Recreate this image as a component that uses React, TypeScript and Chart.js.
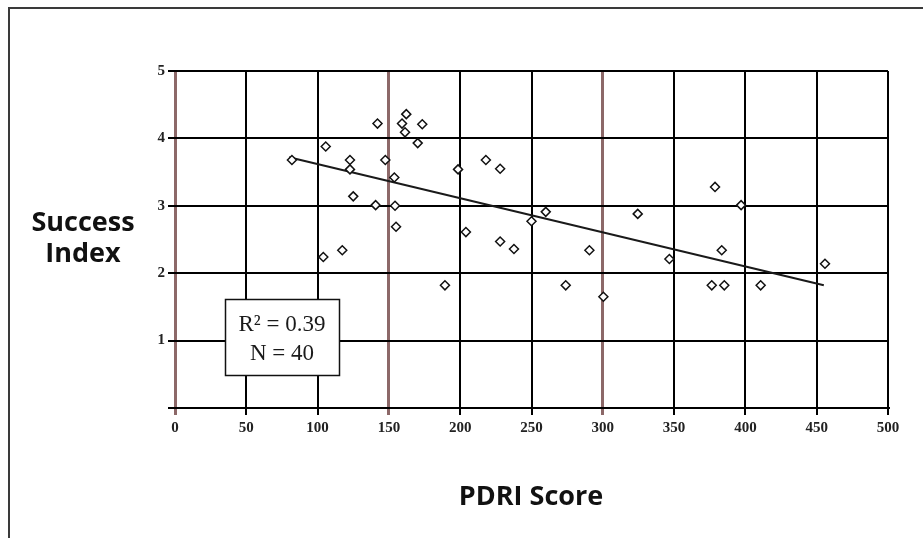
import React, { useEffect, useRef } from "react";
import { Chart, registerables } from "chart.js";

Chart.register(...registerables);

// PDRI score (x) and Success Index (y)
const pdriScores: number[] = [
  82, 105.7, 122.7, 122.7, 125, 117.3, 104, 142, 140.7, 147.5,
  153.8, 154.3, 155, 159.2, 162.2, 161.3, 173.4, 170.2, 198.5, 218,
  228, 204, 228, 237.7, 250, 260, 189.3, 274, 290.6, 300.4,
  324.5, 346.7, 378.7, 397, 383.4, 376.4, 385.2, 410.7, 455.8,
];
const successIndex: number[] = [
  3.68, 3.88, 3.68, 3.54, 3.14, 2.34, 2.24, 4.22, 3.01, 3.68,
  3.42, 3.0, 2.69, 4.22, 4.36, 4.09, 4.21, 3.93, 3.54, 3.68,
  3.55, 2.61, 2.47, 2.36, 2.77, 2.91, 1.82, 1.82, 2.34, 1.65,
  2.88, 2.21, 3.28, 3.01, 2.34, 1.82, 1.82, 1.82, 2.14,
];
// trend line end points
const trendX: number[] = [80, 455];
const trendY: number[] = [3.72, 1.82];

const xTicks: number[] = [0, 50, 100, 150, 200, 250, 300, 350, 400, 450, 500];
const brownGridValues: number[] = [0, 150, 300];
const statLines: string[] = ["R\u00B2 = 0.39", "N = 40"];
const yTitleLines: string[] = ["Success", "Index"];
const xTitle = "PDRI Score";

const W = 923;
const H = 538;

const decorPlugin = {
  id: "decor",
  beforeDraw(chart: any) {
    const ctx = chart.ctx;
    ctx.save();
    ctx.fillStyle = "#ffffff";
    ctx.fillRect(0, 0, W, H);
    ctx.strokeStyle = "#3a3a3a";
    ctx.lineWidth = 2;
    ctx.strokeRect(9, 8, 1000, 1000);
    ctx.restore();
  },
  afterDraw(chart: any) {
    const ctx = chart.ctx;
    ctx.save();
    // stats box
    const bx = 225, by = 299, bw = 114, bh = 76;
    ctx.fillStyle = "#ffffff";
    ctx.fillRect(bx, by, bw, bh);
    ctx.strokeStyle = "#111";
    ctx.lineWidth = 1.5;
    ctx.strokeRect(bx + 0.5, by + 0.5, bw, bh);
    ctx.fillStyle = "#1a1a1a";
    ctx.font = '23px "Liberation Serif", serif';
    ctx.textAlign = "center";
    ctx.textBaseline = "alphabetic";
    ctx.fillText(statLines[0], bx + bw / 2, 331);
    ctx.fillText(statLines[1], bx + bw / 2, 360);

    // axis titles
    ctx.fillStyle = "#111";
    ctx.font = 'bold 27px "Open Sans", sans-serif';
    ctx.fillText(yTitleLines[0], 83, 231);
    ctx.fillText(yTitleLines[1], 83, 262);
    ctx.fillText(xTitle, 531, 505);
    ctx.restore();
  },
};

export default function App() {
  const ref = useRef<HTMLCanvasElement | null>(null);

  useEffect(() => {
    if (!ref.current) return;
    const points = pdriScores.map((x, i) => ({ x, y: successIndex[i] }));
    const trend = trendX.map((x, i) => ({ x, y: trendY[i] }));
    const gridColor = (c: any) =>
      c.tick && brownGridValues.includes(c.tick.value) ? "#8c6868" : "#000000";
    const gridWidth = (c: any) =>
      c.tick && brownGridValues.includes(c.tick.value) ? 3 : 2;

    const chart = new Chart(ref.current, {
      type: "scatter",
      data: {
        datasets: [
          {
            type: "line",
            data: trend,
            borderColor: "#1a1a1a",
            borderWidth: 2,
            pointRadius: 0,
            fill: false,
            order: 2,
          } as any,
          {
            data: points,
            pointStyle: "rectRot",
            pointRadius: 4.5,
            pointBorderWidth: 1.5,
            pointBorderColor: "#111",
            pointBackgroundColor: "#ffffff",
            order: 1,
          } as any,
        ],
      },
      options: {
        responsive: false,
        animation: false,
        devicePixelRatio: 1,
        layout: { padding: { left: 0, top: 71, right: 35, bottom: 0 } },
        plugins: {
          legend: { display: false },
          tooltip: { enabled: false },
        },
        scales: {
          x: {
            type: "linear",
            min: 0,
            max: 500,
            afterBuildTicks: (scale: any) => {
              scale.ticks = xTicks.map((v) => ({ value: v }));
            },
            afterFit: (scale: any) => {
              scale.height = 130;
            },
            grid: {
              color: gridColor,
              lineWidth: gridWidth,
              tickLength: 7,
              drawTicks: true,
            },
            border: { display: true, color: "#000", width: 2 },
            ticks: {
              color: "#222",
              padding: 4,
              maxRotation: 0,
              font: { family: '"Liberation Serif", serif', size: 15, weight: "bold" },
            },
          },
          y: {
            type: "linear",
            min: 0,
            max: 5,
            afterFit: (scale: any) => {
              scale.width = 175;
            },
            grid: {
              color: "#000",
              lineWidth: 2,
              tickLength: 7,
            },
            border: { display: false },
            ticks: {
              stepSize: 1,
              color: "#222",
              padding: 3,
              callback: (v: any) => (v === 0 ? "" : String(v)),
              font: { family: '"Liberation Serif", serif', size: 15, weight: "bold" },
            },
          },
        },
      },
      plugins: [decorPlugin],
    });
    return () => chart.destroy();
  }, []);

  return (
    <div style={{ position: "absolute", left: 0, top: 0, width: W, height: H, background: "#fff" }}>
      <canvas ref={ref} width={W} height={H} style={{ display: "block" }} />
    </div>
  );
}
